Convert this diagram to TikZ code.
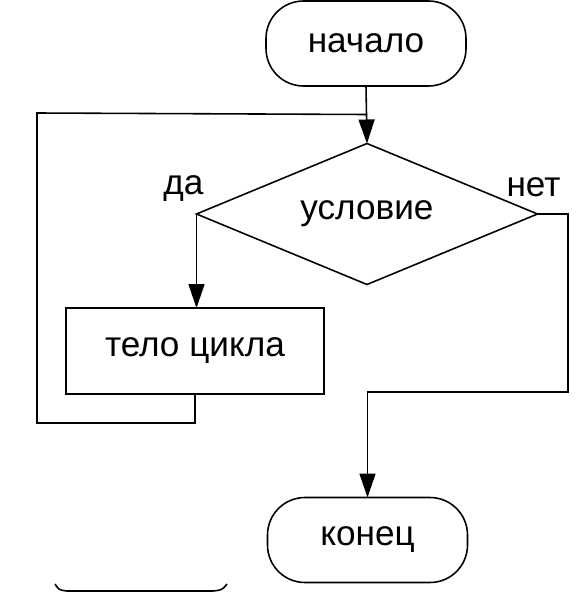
\documentclass[tikz,border=0pt]{standalone}
\usepackage{fontspec}
\setmainfont{Liberation Sans}
\usepackage{tikz}
\usetikzlibrary{shapes.geometric,arrows.meta}

\begin{document}
\begin{tikzpicture}[line width=0.9pt,
    every node/.style={inner sep=1,outer sep=0,font=\fontsize{20}{24}\selectfont},
    term/.style={draw,rounded corners=0.75cm,minimum width=4cm,minimum height=1.7cm},
    cond/.style={draw,diamond,aspect=2.4,inner sep=0,minimum width=6.82cm,minimum height=2.82cm},
    body/.style={draw,minimum width=5.16cm,minimum height=1.72cm},
    flow/.style={-{Triangle[length=0.48cm,width=0.32cm]}}]
    \useasboundingbox (0,0) rectangle (11.66,-11.84);

    \node(s)[term] at (7.32,-0.87) {начало};
    \node(c)[cond] at (7.34,-4.28) {условие};
    \node(b)[body] at (3.9,-7.02) {тело цикла};
    \node(e)[term] at (7.35,-10.8) {конец};

    \node(yes) at ([xshift=-0.26cm,yshift=0.5cm]c.west) {да};
    \node(no) at ([xshift=-0.08cm,yshift=0.54cm]c.east) {нет};

    \coordinate(join) at ([yshift=-0.57cm]s.south);
    \coordinate(back) at ([yshift=-0.58cm]b.south);
    \coordinate(out) at (11.36,-7.84);

    \draw [flow] (s.south) -- (c.north);
    \draw [flow] (c.west) -- (c.west |- b.north);
    \draw (b.south) -- (back) -| (0.74,-2.26) -- (join);
    \draw [flow] (c.east) -| (out) -| (e.north);

    %% leftover of a shape below the page
    \draw (1.1,-11.68) .. controls (1.18,-11.8) .. (1.34,-11.82) -- (4.26,-11.82)
      .. controls (4.44,-11.8) .. (4.54,-11.68);
  \end{tikzpicture}
\end{document}
